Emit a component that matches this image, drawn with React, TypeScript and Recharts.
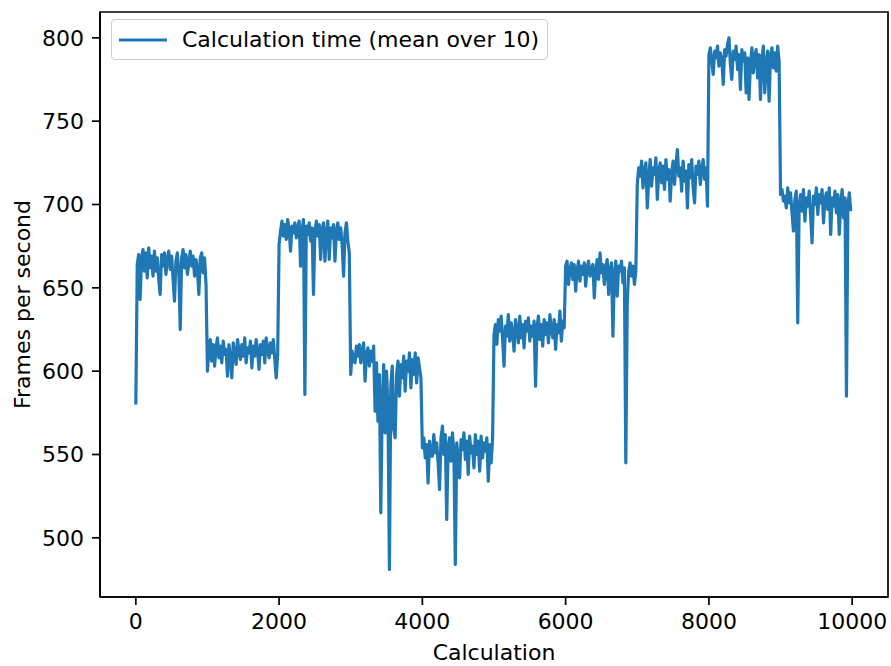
import { LineChart, Line, XAxis, YAxis, Legend, ReferenceArea } from 'recharts'

// fps samples every 20 calculations, one array per 1000-calculation block
const STEP = 20
const BLOCK_0 = [580, 664, 670, 643, 668, 673, 660, 671, 656, 674, 662, 669, 657, 672, 660, 668, 655, 646, 670, 663, 671, 658, 667, 672, 661, 669, 655, 642, 666, 671, 660, 625, 668, 673, 662, 670, 658, 665, 672, 663, 669, 657, 667, 661, 646, 668, 671, 659, 668, 652]
const BLOCK_1 = [600, 612, 619, 606, 616, 603, 614, 620, 608, 615, 605, 618, 610, 613, 597, 616, 609, 596, 617, 611, 604, 619, 612, 607, 616, 609, 620, 605, 614, 611, 618, 602, 615, 609, 619, 612, 601, 616, 610, 618, 605, 620, 613, 608, 617, 611, 619, 607, 596, 610]
const BLOCK_2 = [676, 684, 690, 681, 688, 679, 691, 685, 672, 687, 683, 689, 680, 686, 690, 663, 684, 691, 586, 687, 682, 689, 678, 686, 646, 684, 690, 681, 688, 667, 685, 689, 666, 683, 690, 667, 686, 680, 688, 666, 684, 689, 679, 686, 676, 657, 683, 689, 678, 671]
const BLOCK_3 = [598, 612, 607, 605, 615, 609, 616, 605, 612, 617, 594, 610, 614, 603, 612, 606, 615, 576, 605, 570, 598, 515, 580, 604, 563, 600, 578, 481, 592, 603, 565, 560, 598, 606, 585, 604, 596, 609, 588, 606, 600, 611, 590, 607, 598, 611, 593, 608, 602, 596]
const BLOCK_4 = [554, 560, 548, 556, 533, 558, 549, 549, 562, 551, 557, 545, 529, 560, 567, 550, 562, 511, 555, 560, 546, 563, 552, 484, 557, 548, 536, 559, 553, 563, 547, 558, 538, 561, 551, 555, 542, 562, 550, 558, 540, 561, 548, 557, 552, 560, 534, 556, 545, 559]
const BLOCK_5 = [622, 628, 616, 631, 624, 633, 619, 603, 627, 621, 634, 618, 629, 623, 612, 631, 625, 617, 633, 620, 628, 614, 630, 624, 632, 618, 627, 621, 630, 591, 626, 633, 619, 628, 615, 631, 622, 629, 617, 634, 625, 620, 631, 613, 628, 623, 636, 618, 630, 626]
const BLOCK_6 = [663, 666, 652, 661, 665, 655, 664, 648, 660, 666, 654, 663, 658, 665, 651, 662, 666, 657, 661, 664, 644, 660, 667, 655, 671, 659, 664, 652, 662, 667, 646, 661, 665, 621, 658, 666, 645, 663, 660, 666, 653, 662, 545, 641, 660, 665, 657, 663, 652, 660]
const BLOCK_7 = [712, 722, 717, 726, 710, 720, 725, 698, 716, 727, 711, 722, 718, 728, 703, 720, 725, 713, 723, 709, 727, 715, 721, 702, 719, 726, 712, 724, 733, 717, 722, 708, 726, 714, 720, 698, 724, 716, 727, 710, 701, 723, 718, 726, 712, 721, 727, 715, 722, 699]
const BLOCK_8 = [790, 794, 786, 778, 792, 788, 795, 783, 791, 787, 772, 793, 789, 796, 800, 784, 775, 792, 787, 795, 781, 790, 769, 793, 786, 791, 767, 788, 763, 785, 794, 779, 789, 793, 776, 790, 763, 787, 795, 767, 784, 792, 762, 789, 794, 782, 791, 780, 795, 786]
const BLOCK_9 = [706, 709, 702, 705, 698, 710, 701, 707, 695, 684, 703, 708, 629, 700, 706, 696, 709, 690, 704, 699, 708, 693, 677, 705, 700, 710, 694, 706, 701, 709, 689, 703, 707, 697, 710, 682, 704, 699, 708, 695, 706, 682, 701, 709, 692, 704, 585, 700, 707, 696]

const BLOCKS = [BLOCK_0, BLOCK_1, BLOCK_2, BLOCK_3, BLOCK_4, BLOCK_5, BLOCK_6, BLOCK_7, BLOCK_8, BLOCK_9]
const X_TICKS = [0, 2000, 4000, 6000, 8000, 10000]
const Y_TICKS = [500, 550, 600, 650, 700, 750, 800]
const X_DOMAIN = [-500, 10500]
const Y_DOMAIN = [464.5, 815.5]
const SERIES_NAME = 'Calculation time (mean over 10)'

const BLUE = '#1f77b4'
const FONT = "'DejaVu Sans', sans-serif"
const FS = 22

const data = BLOCKS.flatMap((block, b) =>
  block.map((fps, i) => ({ calc: b * 1000 + i * STEP, fps })),
)

const tickStyle = { fill: '#000', fontSize: FS, fontFamily: FONT }
const spine = { stroke: '#000', strokeWidth: 1.7 }

function LegendBox({ payload }: any) {
  const item = payload?.[0]
  return (
    <div
      style={{
        width: 437,
        height: 41,
        boxSizing: 'border-box',
        border: '1.4px solid #cccccc',
        borderRadius: 4,
        background: 'rgba(255,255,255,0.8)',
        display: 'flex',
        alignItems: 'center',
        fontFamily: FONT,
        fontSize: FS,
        color: '#000',
      }}
    >
      <svg width={64} height={20} style={{ marginLeft: 6 }}>
        <line x1={1} x2={49} y1={10} y2={10} stroke={item?.color ?? BLUE} strokeWidth={3.2} />
      </svg>
      <span style={{ whiteSpace: 'nowrap' }}>{item?.value ?? SERIES_NAME}</span>
    </div>
  )
}

export default function App() {
  return (
    <div style={{ position: 'absolute', left: 0, top: 0, width: 891, height: 666, background: '#fff' }}>
      <LineChart width={891} height={666} data={data} margin={{ top: 12, right: 3, bottom: 0, left: 0 }}>
        <XAxis
          dataKey="calc"
          type="number"
          domain={X_DOMAIN}
          allowDataOverflow
          ticks={X_TICKS}
          height={69}
          tickSize={8}
          tickMargin={8}
          axisLine={spine}
          tickLine={spine}
          tick={tickStyle}
          label={({ viewBox }: any) => (
            <text
              x={viewBox.x + viewBox.width / 2}
              y={viewBox.y + 55}
              textAnchor="middle"
              dominantBaseline="central"
              fill="#000"
              fontFamily={FONT}
              fontSize={FS}
            >
              Calculation
            </text>
          )}
        />
        <YAxis
          type="number"
          domain={Y_DOMAIN}
          allowDataOverflow
          ticks={Y_TICKS}
          width={100}
          tickSize={8}
          tickMargin={8}
          axisLine={spine}
          tickLine={spine}
          tick={tickStyle}
          label={({ viewBox }: any) => {
            const cx = viewBox.x + 22
            const cy = viewBox.y + viewBox.height / 2
            return (
              <text
                x={cx}
                y={cy}
                transform={`rotate(-90, ${cx}, ${cy})`}
                textAnchor="middle"
                dominantBaseline="central"
                fill="#000"
                fontFamily={FONT}
                fontSize={FS}
              >
                Frames per second
              </text>
            )
          }}
        />
        <Legend
          layout="vertical"
          align="center"
          verticalAlign="middle"
          content={<LegendBox />}
          wrapperStyle={{ left: 111, top: 19, width: 437, height: 41 }}
        />
        <Line
          name={SERIES_NAME}
          dataKey="fps"
          stroke={BLUE}
          strokeWidth={3.2}
          strokeLinejoin="round"
          dot={false}
          isAnimationActive={false}
        />
        {/* full frame, like matplotlib's four spines */}
        <ReferenceArea
          x1={X_DOMAIN[0]}
          x2={X_DOMAIN[1]}
          y1={Y_DOMAIN[0]}
          y2={Y_DOMAIN[1]}
          fill="none"
          stroke="#000"
          strokeWidth={1.7}
          ifOverflow="visible"
        />
      </LineChart>
    </div>
  )
}
